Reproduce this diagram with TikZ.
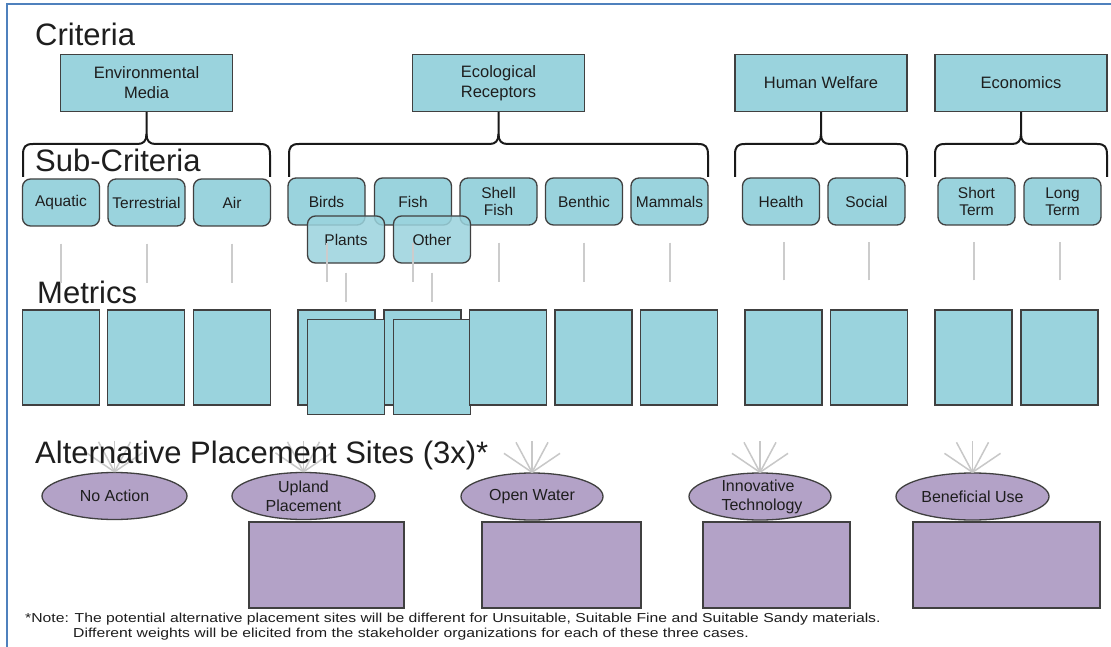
\documentclass[tikz,border=0pt]{standalone}
\usepackage{fontspec}
\setmainfont{Liberation Sans}
\usetikzlibrary{shapes.geometric,calc}
\definecolor{tealf}{RGB}{154,211,221}
\definecolor{bordc}{RGB}{64,64,64}
\definecolor{purp}{RGB}{179,162,199}
\definecolor{glc}{RGB}{204,204,204}
\definecolor{rayc}{RGB}{200,200,200}
\definecolor{framec}{RGB}{79,129,189}
\definecolor{txt}{RGB}{30,30,30}
\newcommand\cbrace[4]{%
\draw[brc] (#1,177) -- (#1,155) .. controls (#1,147) and ({#1+2},144) .. ({#1+10},144) -- ({#3-9},144) .. controls ({#3-3},144) and (#3,141) .. (#3,134) -- (#4.south);
\draw[brc] (#3,134) .. controls (#3,141) and ({#3+3},144) .. ({#3+9},144) -- ({#2-10},144) .. controls ({#2-2},144) and (#2,147) .. (#2,155) -- (#2,177);}
\begin{document}
\begin{tikzpicture}[x=1pt,y=-1pt,
 crit/.style={draw=bordc, fill=tealf, line width=1.3pt, minimum width=172pt, minimum height=57pt, inner sep=0pt, align=center, text=txt, font=\fontsize{16.5}{20}\selectfont},
 sub/.style={draw=bordc, fill=tealf, line width=1.3pt, rounded corners=8pt, minimum width=77pt, minimum height=47pt, inner sep=0pt, align=center, text=txt, font=\fontsize{15.5}{17}\selectfont},
 met/.style={draw=bordc, fill=tealf, line width=1.3pt, minimum width=77pt, minimum height=95pt, inner sep=0pt},
 alt/.style={ellipse, draw=bordc, fill=purp, line width=1.3pt, minimum height=47pt, inner sep=0pt},
 alttext/.style={align=center, text=txt, inner sep=0pt, font=\fontsize{16}{19}\selectfont},
 prect/.style={draw=bordc, fill=purp, line width=1.3pt, minimum height=86pt, inner sep=0pt},
 big/.style={anchor=base west, inner sep=0pt, text=txt, font=\fontsize{31}{31}\selectfont},
 brc/.style={line width=2pt, draw=black!90},
 gl/.style={line width=2pt, draw=glc},
 ray/.style={line width=1.5pt, draw=rayc},
 notef/.style={anchor=base west, inner sep=0pt, text=txt, font=\fontsize{13}{14}\selectfont}]
\useasboundingbox (0,0) rectangle (1111,647);
\fill[white] (0,0) rectangle (1111,647);
\draw[framec, line width=2pt] (7,647) -- (7,4) -- (1111,4);

% criteria boxes
\node[crit] (envm) at (146.5,83) {Environmental\\Media};
\node[crit] (ecor) at (498.5,83) {Ecological\\Receptors};
\node[crit] (humw) at (821,83) {Human Welfare};
\node[crit] (econ) at (1021,83) {Economics};

% braces
\cbrace{23}{270}{146.5}{envm}
\cbrace{289}{708}{498.5}{ecor}
\cbrace{735}{907}{821}{humw}
\cbrace{935}{1107}{1021}{econ}

% labels
\node[big] (lcrit) at (35,46) {Criteria};
\node[big] (lsub) at (35,172) {Sub-Criteria};
\node[big] (lmet) at (37,303) {Metrics};

% sub-criteria
\node[sub] (aq) at (61,202.5) {Aquatic};
\node[sub] (te) at (146.5,202.5) {Terrestrial};
\node[sub] (air) at (232,202.5) {Air};
\node[sub] (birds) at (326.5,201.5) {Birds};
\node[sub] (fish) at (413,201.5) {Fish};
\node[sub] (sf) at (498.5,201.5) {Shell\\Fish};
\node[sub] (ben) at (584,201.5) {Benthic};
\node[sub] (mam) at (669.5,201.5) {Mammals};
\node[sub, fill opacity=0.85, text opacity=1] (pl) at (346,239.5) {Plants};
\node[sub, fill opacity=0.85, text opacity=1] (oth) at (432,239.5) {Other};
\node[sub] (hea) at (781,201.5) {Health};
\node[sub] (soc) at (866.5,201.5) {Social};
\node[sub] (sht) at (976.5,201.5) {Short\\Term};
\node[sub] (lng) at (1062.5,201.5) {Long\\Term};

% metrics
\node[met] (m1) at (61,357.5) {};
\node[met] (m2) at (146,357.5) {};
\node[met] (m3) at (232,357.5) {};
\node[met] (mb1) at (336.5,357.5) {};
\node[met] (mb2) at (422.5,357.5) {};
\node[met] (mf1) at (346,367) {};
\node[met] (mf2) at (432,367) {};
\node[met] (msf) at (508,357.5) {};
\node[met] (mben) at (593.5,357.5) {};
\node[met] (mmam) at (679,357.5) {};
\node[met] (mhea) at (783.5,357.5) {};
\node[met] (msoc) at (869,357.5) {};
\node[met] (msht) at (973.5,357.5) {};
\node[met] (mlng) at (1059.5,357.5) {};

% grey links
\foreach \n in {aq,te,air,birds,fish,sf,ben,mam}
  \draw[gl] ([yshift=-17pt]\n.south) -- ++(0,39);
\foreach \n in {pl,oth}
  \draw[gl] ([yshift=-9pt]\n.south) -- ++(0,29);
\foreach \n in {mhea,msoc,msht,mlng}
  \draw[gl] ([yshift=29pt]\n.north) -- ++(0,-38);

% alternatives
\node[prect, minimum width=155pt] (rup) at (326.5,565) {};
\node[prect, minimum width=159pt] (row) at (561.5,565) {};
\node[prect, minimum width=147pt] (rin) at (776.5,565) {};
\node[prect, minimum width=187pt] (rbe) at (1006.5,565) {};

\node[alt, minimum width=145pt] (na) at (114.5,496) {};
\node[alt, minimum width=143pt] (up) at (303.5,496) {};
\node[alt, minimum width=142pt] (ow) at (532,496.5) {};
\node[alt, minimum width=142pt] (in) at (760,496.5) {};
\node[alt, minimum width=153pt] (be) at (972.5,496.5) {};

\node[alttext] (nat) at (na) {No Action};
\node[alttext] (upt) at (up) {Upland\\Placement};
\node[alttext] (owt) at (ow) {Open Water};
\node[alttext, align=left] (int) at ([xshift=2pt]in.center) {Innovative\\Technology};
\node[alttext] (bet) at (be) {Beneficial Use};

\foreach \n in {na,up,ow,in,be}{
  \draw[ray] (\n.north) -- ++(-28,-19);
  \draw[ray] (\n.north) -- ++(-16,-30);
  \draw[ray] (\n.north) -- ++(0,-31);
  \draw[ray] (\n.north) -- ++(16,-30);
  \draw[ray] (\n.north) -- ++(28,-19);
}

\node[big] (lalt) at (35,463) {Alternative Placement Sites (3x)*};

\node[notef] (n1) at (25,622) {\scalebox{1.21}[1]{*Note: The potential alternative placement sites will be different for Unsuitable, Suitable Fine and Suitable Sandy materials.}};
\node[notef] (n2) at (73,637) {\scalebox{1.21}[1]{Different weights will be elicited from the stakeholder organizations for each of these three cases.}};
\end{tikzpicture}
\end{document}
